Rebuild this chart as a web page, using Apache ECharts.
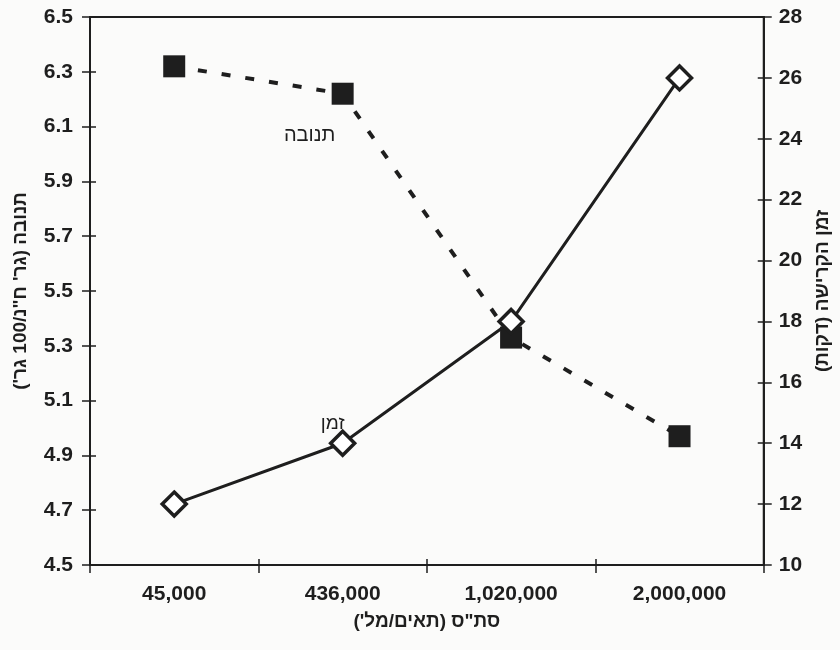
<!DOCTYPE html>
<html>
<head>
<meta charset="utf-8">
<script src="https://cdn.jsdelivr.net/npm/echarts@6/dist/echarts.min.js"></script>
<style>
  html, body { margin: 0; padding: 0; background: #fbfbfa; }
  #chart { width: 840px; height: 650px; }
</style>
</head>
<body>
<div id="chart"></div>
<script>
// Somatic cell count categories (cells/ml)
const categories = ['45,000', '436,000', '1,020,000', '2,000,000'];
// Yield (g solids / 100 g) — left axis
const yieldValues = [6.32, 6.22, 5.33, 4.97];
// Clotting time (minutes) — right axis
const clotTime = [12.0, 14.0, 18.0, 26.0];
// Left axis tick values
const leftTicks = [4.5, 4.7, 4.9, 5.1, 5.3, 5.5, 5.7, 5.9, 6.1, 6.3, 6.5];

const ink = '#1e1e1e';
const fam = 'Liberation Sans, Arial, sans-serif';
const tickFont = { color: ink, fontSize: 21, fontWeight: 'bold', fontFamily: fam };
const tickLine = { color: ink, width: 1.5 };

const chart = echarts.init(document.getElementById('chart'), null, { renderer: 'canvas' });

chart.setOption({
  animation: false,
  backgroundColor: '#fbfbfa',
  grid: { left: 90, right: 70, top: 17, bottom: 85, show: true, borderColor: ink, borderWidth: 2, backgroundColor: 'transparent' },
  xAxis: [
    {
      type: 'category',
      data: categories,
      boundaryGap: true,
      position: 'bottom',
      name: 'סת"ס (תאים/מל\')',
      nameLocation: 'middle',
      nameGap: 47,
      nameTextStyle: { color: ink, fontSize: 19, fontWeight: 'bold', fontFamily: fam },
      axisLine: { lineStyle: { color: ink, width: 2 } },
      axisTick: { show: true, length: 8, lineStyle: tickLine },
      axisLabel: Object.assign({ margin: 19 }, tickFont),
      splitLine: { show: false }
    },
    {
      // inner half of the crossing category ticks
      type: 'category',
      data: categories,
      boundaryGap: true,
      position: 'bottom',
      axisLine: { show: false },
      axisTick: { show: true, inside: true, length: 6, lineStyle: tickLine },
      axisLabel: { show: false },
      splitLine: { show: false }
    }
  ],
  yAxis: [
    {
      type: 'value',
      min: 4.5, max: 6.5,
      position: 'left',
      name: 'תנובה (גר\' ח"נ/100 גר\')',
      nameLocation: 'middle',
      nameRotate: 90,
      nameGap: 60,
      nameTextStyle: { color: ink, fontSize: 19, fontWeight: 'bold', fontFamily: fam },
      axisLine: { show: true, lineStyle: { color: ink, width: 2 } },
      axisTick: { show: true, length: 8, customValues: leftTicks, lineStyle: tickLine },
      axisLabel: Object.assign({ margin: 17, customValues: leftTicks, formatter: v => v.toFixed(1) }, tickFont),
      splitLine: { show: false }
    },
    {
      type: 'value',
      min: 10, max: 28, interval: 2,
      position: 'right',
      name: 'זמן הקרישה (דקות)',
      nameLocation: 'middle',
      nameRotate: 90,
      nameGap: 46,
      nameTextStyle: { color: ink, fontSize: 19, fontWeight: 'bold', fontFamily: fam },
      axisLine: { show: true, lineStyle: { color: ink, width: 2 } },
      axisTick: { show: true, length: 8, lineStyle: tickLine },
      axisLabel: Object.assign({ margin: 15 }, tickFont),
      splitLine: { show: false }
    },
    {
      // inner half of the crossing left ticks
      type: 'value',
      min: 4.5, max: 6.5,
      position: 'left',
      axisLine: { show: false },
      axisTick: { show: true, inside: true, length: 6, customValues: leftTicks, lineStyle: tickLine },
      axisLabel: { show: false },
      splitLine: { show: false }
    },
    {
      // inner half of the crossing right ticks
      type: 'value',
      min: 10, max: 28, interval: 2,
      position: 'right',
      axisLine: { show: false },
      axisTick: { show: true, inside: true, length: 6, lineStyle: tickLine },
      axisLabel: { show: false },
      splitLine: { show: false }
    }
  ],
  series: [
    {
      name: 'תנובה',
      type: 'line',
      yAxisIndex: 0,
      data: yieldValues.map((v, i) => i === 1 ? {
        value: v,
        label: { show: true, position: 'inside', offset: [-33, 42], formatter: 'תנובה',
                 color: ink, fontSize: 20, fontFamily: fam }
      } : v),
      symbol: 'rect',
      symbolSize: 22,
      showAllSymbol: true,
      itemStyle: { color: ink, borderColor: ink, borderWidth: 0 },
      lineStyle: { color: ink, width: 4, type: [9, 15] },
      z: 2
    },
    {
      name: 'זמן',
      type: 'line',
      yAxisIndex: 1,
      data: clotTime.map((v, i) => i === 1 ? {
        value: v,
        label: { show: true, position: 'inside', offset: [-10, -19], formatter: 'זמן',
                 color: ink, fontSize: 19, fontFamily: fam }
      } : v),
      symbol: 'diamond',
      symbolSize: 24,
      showAllSymbol: true,
      itemStyle: { color: '#ffffff', borderColor: ink, borderWidth: 3.5 },
      lineStyle: { color: ink, width: 3 },
      z: 3
    }
  ]
});
</script>
</body>
</html>
